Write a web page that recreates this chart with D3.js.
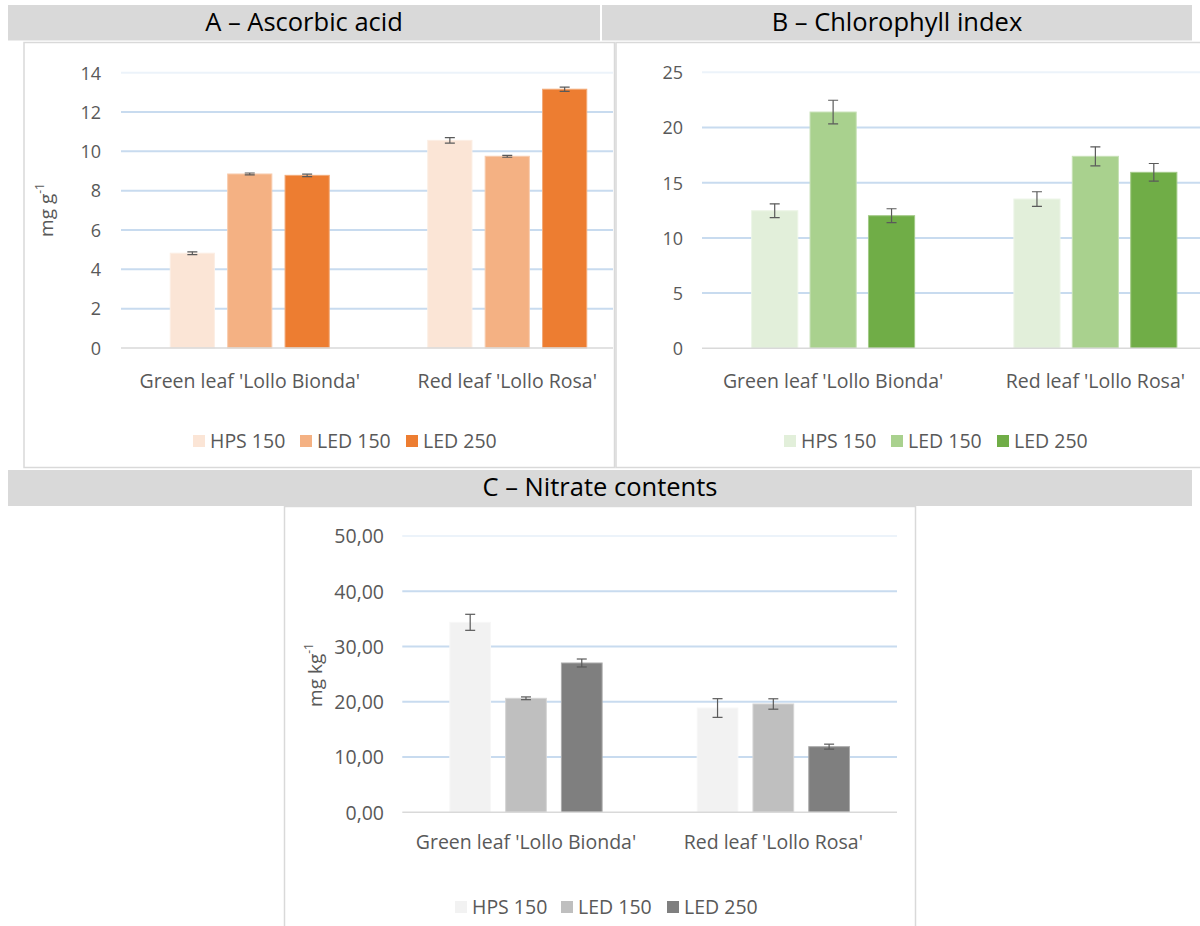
<!DOCTYPE html>
<html>
<head>
<meta charset="utf-8">
<script src="https://cdn.jsdelivr.net/npm/d3@7"></script>
<style>
  html, body { margin: 0; padding: 0; background: #fff; }
  svg { display: block; font-family: "Open Sans", "Noto Sans", sans-serif; }
</style>
</head>
<body>
<svg id="chart" width="1200" height="926"></svg>
<script>
// Lettuce cultivars and lighting treatments
const categories = ["Green leaf 'Lollo Bionda'", "Red leaf 'Lollo Rosa'"];
const treatments = ["HPS 150", "LED 150", "LED 250"];

// A – Ascorbic acid (mg g-1), one array per treatment, values per cultivar
const ascorbicHPS150 = [4.82, 10.56];
const ascorbicLED150 = [8.85, 9.75];
const ascorbicLED250 = [8.78, 13.16];
const ascorbicErrHPS150 = [0.07, 0.14];
const ascorbicErrLED150 = [0.05, 0.05];
const ascorbicErrLED250 = [0.06, 0.11];
const ascorbicTicks = [0, 2, 4, 6, 8, 10, 12, 14];

// B – Chlorophyll index
const chloroHPS150 = [12.46, 13.52];
const chloroLED150 = [21.40, 17.39];
const chloroLED250 = [12.01, 15.94];
const chloroErrHPS150 = [0.63, 0.66];
const chloroErrLED150 = [1.07, 0.86];
const chloroErrLED250 = [0.63, 0.80];
const chloroTicks = [0, 5, 10, 15, 20, 25];

// C – Nitrate contents (mg kg-1)
const nitrateHPS150 = [34.38, 18.87];
const nitrateLED150 = [20.63, 19.60];
const nitrateLED250 = [27.02, 11.88];
const nitrateErrHPS150 = [1.45, 1.69];
const nitrateErrLED150 = [0.25, 0.94];
const nitrateErrLED250 = [0.72, 0.45];
const nitrateTicks = [0, 10, 20, 30, 40, 50];

const orangeColors = ["#fbe5d6", "#f4b183", "#ed7d31"];
const greenColors = ["#e2efda", "#a9d18e", "#70ad47"];
const grayColors = ["#f2f2f2", "#bfbfbf", "#7f7f7f"];

const svg = d3.select("#chart");
const textColor = "#595959";
const gridColor = "#c8dbef";

// Section header bars
const headers = [
  { text: "A \u2013 Ascorbic acid", x0: 8, x1: 600, y0: 5, y1: 40.5 },
  { text: "B \u2013 Chlorophyll index", x0: 602, x1: 1192, y0: 5, y1: 40.5 },
  { text: "C \u2013 Nitrate contents", x0: 8, x1: 1192, y0: 470, y1: 506 }
];
headers.forEach(h => {
  svg.append("rect")
    .attr("x", h.x0).attr("y", h.y0)
    .attr("width", h.x1 - h.x0).attr("height", h.y1 - h.y0)
    .attr("fill", "#d9d9d9");
  svg.append("text")
    .attr("x", (h.x0 + h.x1) / 2).attr("y", (h.y0 + h.y1) / 2 + 1)
    .attr("text-anchor", "middle").attr("dominant-baseline", "middle")
    .attr("font-size", 25.5).attr("fill", "#000")
    .text(h.text);
});

function buildSeries(values, errors) {
  return treatments.map((t, i) => ({
    name: t,
    values: categories.map((c, j) => ({ cat: c, value: values[i][j], err: errors[i][j] }))
  }));
}

function drawPanel(cfg) {
  const g = svg.append("g");
  const clipId = "clip-" + cfg.id;
  g.append("clipPath").attr("id", clipId)
    .append("rect")
    .attr("x", cfg.box.x).attr("y", cfg.box.y)
    .attr("width", cfg.box.w).attr("height", cfg.box.h);

  // frame
  g.append("rect")
    .attr("x", cfg.box.x + 0.5).attr("y", cfg.box.y + 0.5)
    .attr("width", cfg.box.w).attr("height", cfg.box.h)
    .attr("fill", "#fff").attr("stroke", "#d9d9d9").attr("stroke-width", 1.5);

  const inner = g.append("g").attr("clip-path", `url(#${clipId})`);

  const y = d3.scaleLinear().domain([cfg.ticks[0], cfg.ticks[cfg.ticks.length - 1]])
    .range([cfg.plot.bottom, cfg.plot.top]);
  const x0 = d3.scaleBand().domain(categories)
    .range([cfg.plot.left, cfg.plot.right])
    .paddingInner(0).paddingOuter(0);
  const clusterWidth = x0.bandwidth() * cfg.clusterFrac;
  const x1 = d3.scaleBand().domain(treatments)
    .range([0, clusterWidth]).paddingInner(cfg.barGap).paddingOuter(0);
  const clusterOffset = (x0.bandwidth() - clusterWidth) / 2;

  // horizontal gridlines
  const last = cfg.ticks[cfg.ticks.length - 1];
  inner.append("g").selectAll("line")
    .data(cfg.ticks.filter(t => t !== 0))
    .join("line")
    .attr("x1", cfg.plot.left).attr("x2", cfg.gridRight)
    .attr("y1", d => y(d)).attr("y2", d => y(d))
    .attr("stroke", d => d === last ? "#ecf3fa" : gridColor)
    .attr("stroke-width", 2);

  // tick labels
  const axis = d3.axisLeft(y).tickValues(cfg.ticks).tickFormat(cfg.format).tickSize(0).tickPadding(0);
  const ax = g.append("g").attr("transform", `translate(${cfg.tickRight},0)`).call(axis);
  ax.select(".domain").remove();
  ax.selectAll("text").attr("fill", textColor).attr("font-size", cfg.tickSize)
    .attr("font-family", "'Open Sans', sans-serif").attr("dy", "0.35em");

  // bars
  const series = cfg.series;
  const groups = inner.selectAll("g.series").data(series).join("g").attr("class", "series");
  groups.each(function (s, i) {
    const sel = d3.select(this);
    const fill = cfg.colors[i];
    const edge = d3.interpolateRgb(fill, "#ffffff")(0.35);
    sel.selectAll("rect").data(s.values).join("rect")
      .attr("x", d => x0(d.cat) + clusterOffset + x1(s.name))
      .attr("y", d => y(d.value))
      .attr("width", x1.bandwidth())
      .attr("height", d => y(0) - y(d.value))
      .attr("fill", fill)
      .attr("stroke", edge).attr("stroke-width", 1);
    // error bars
    const eb = sel.selectAll("g.err").data(s.values).join("g").attr("class", "err")
      .attr("stroke", "#5a5a5a").attr("stroke-width", 1.2);
    const cx = d => x0(d.cat) + clusterOffset + x1(s.name) + x1.bandwidth() / 2;
    eb.append("line").attr("x1", cx).attr("x2", cx)
      .attr("y1", d => y(d.value + d.err)).attr("y2", d => y(d.value - d.err));
    eb.append("line").attr("x1", d => cx(d) - 5).attr("x2", d => cx(d) + 5)
      .attr("y1", d => y(d.value + d.err)).attr("y2", d => y(d.value + d.err));
    eb.append("line").attr("x1", d => cx(d) - 5).attr("x2", d => cx(d) + 5)
      .attr("y1", d => y(d.value - d.err)).attr("y2", d => y(d.value - d.err));
  });

  // baseline
  inner.append("line")
    .attr("x1", cfg.plot.left).attr("x2", cfg.gridRight)
    .attr("y1", y(0)).attr("y2", y(0))
    .attr("stroke", "#d9d9d9").attr("stroke-width", 1.5);

  // category labels
  const xAxis = d3.axisBottom(x0).tickSize(0).tickPadding(0);
  const xa = inner.append("g").attr("transform", `translate(0,${cfg.catY})`).call(xAxis);
  xa.select(".domain").remove();
  xa.selectAll("text").attr("fill", textColor).attr("font-size", 19.5)
    .attr("font-family", "'Open Sans', sans-serif").attr("dy", "0.35em");

  // y axis title
  if (cfg.yTitle) {
    const t = g.append("text")
      .attr("transform", `translate(${cfg.yTitle.x},${cfg.yTitle.y}) rotate(-90)`)
      .attr("text-anchor", "middle").attr("fill", textColor)
      .attr("font-size", 19);
    t.append("tspan").text(cfg.yTitle.base);
    t.append("tspan").attr("font-size", 12).attr("dy", "-0.75em").text(cfg.yTitle.sup);
  }

  // legend
  const leg = g.append("g");
  treatments.forEach((t, i) => {
    const lx = cfg.legend.xs[i];
    leg.append("rect").attr("x", lx).attr("y", cfg.legend.y - 6)
      .attr("width", 12).attr("height", 12).attr("fill", cfg.colors[i]);
    leg.append("text").attr("x", lx + 17).attr("y", cfg.legend.y)
      .attr("dy", "0.35em").attr("fill", textColor).attr("font-size", cfg.legendSize)
      .text(t);
  });
}

drawPanel({
  id: "a",
  box: { x: 23.5, y: 42, w: 590.5, h: 425 },
  plot: { left: 121, right: 636, top: 72.7, bottom: 348 },
  gridRight: 613,
  clusterFrac: 159 / 257.5,
  barGap: 0.23,
  ticks: ascorbicTicks,
  format: d3.format("d"),
  tickRight: 101,
  tickSize: 18,
  catY: 381,
  yTitle: { x: 53, y: 210, base: "mg g", sup: "-1" },
  legend: { y: 441, xs: [193, 300, 406] },
  legendSize: 19.5,
  colors: orangeColors,
  series: buildSeries([ascorbicHPS150, ascorbicLED150, ascorbicLED250],
                      [ascorbicErrHPS150, ascorbicErrLED150, ascorbicErrLED250])
});

drawPanel({
  id: "b",
  box: { x: 615.5, y: 42, w: 600, h: 425 },
  plot: { left: 702, right: 1226.5, top: 72.3, bottom: 348.3 },
  gridRight: 1200,
  clusterFrac: 163 / 262.25,
  barGap: 0.21,
  ticks: chloroTicks,
  format: d3.format("d"),
  tickRight: 683,
  tickSize: 18,
  catY: 381,
  yTitle: null,
  legend: { y: 441, xs: [784, 891, 997] },
  legendSize: 19.5,
  colors: greenColors,
  series: buildSeries([chloroHPS150, chloroLED150, chloroLED250],
                      [chloroErrHPS150, chloroErrLED150, chloroErrLED250])
});

const commaFormat = d => d3.format(".2f")(d).replace(".", ",");
drawPanel({
  id: "c",
  box: { x: 284, y: 506, w: 631, h: 430 },
  plot: { left: 402.3, right: 897, top: 536, bottom: 812.3 },
  gridRight: 897,
  clusterFrac: 152.3 / 247.35,
  barGap: 0.27,
  ticks: nitrateTicks,
  format: commaFormat,
  tickRight: 384,
  tickSize: 19.5,
  catY: 842,
  yTitle: { x: 322, y: 675, base: "mg kg", sup: "-1" },
  legend: { y: 907, xs: [455, 561, 667] },
  legendSize: 19.5,
  colors: grayColors,
  series: buildSeries([nitrateHPS150, nitrateLED150, nitrateLED250],
                      [nitrateErrHPS150, nitrateErrLED150, nitrateErrLED250])
});
</script>
</body>
</html>
